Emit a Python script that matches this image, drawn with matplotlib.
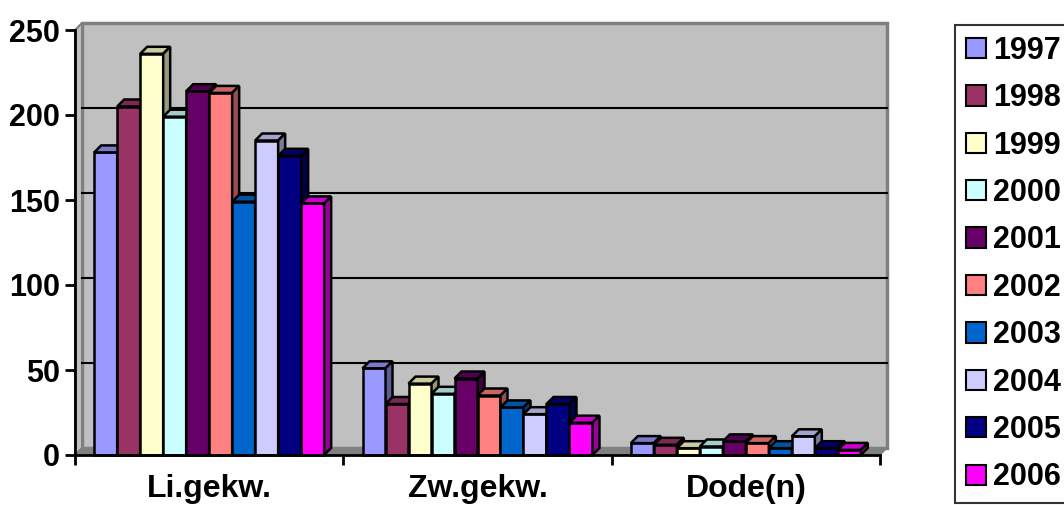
import matplotlib.pyplot as plt
from matplotlib.patches import Polygon, Rectangle, Patch
import matplotlib.colors as mcolors

plt.rcParams['font.family'] = ['Liberation Sans', 'DejaVu Sans']
plt.rcParams['font.weight'] = 'bold'

# Daten
kategorien = ["Li.gekw.", "Zw.gekw.", "Dode(n)"]
jahre = ["1997", "1998", "1999", "2000", "2001", "2002", "2003", "2004", "2005", "2006"]
li_gekw = [178, 205, 236, 199, 214, 213, 149, 185, 176, 148]
zw_gekw = [51, 30, 42, 36, 45, 35, 28, 24, 30, 19]
doden = [7, 6, 4, 5, 8, 7, 4, 11, 4, 3]
werte = [li_gekw, zw_gekw, doden]

farben = ['#9999FF', '#993366', '#FFFFCC', '#CCFFFF', '#660066',
          '#FF8080', '#0066CC', '#CCCCFF', '#000080', '#FF00FF']

def dunkler(c, f):
    r, g, b = mcolors.to_rgb(c)
    return (r * f, g * f, b * f)

fig = plt.figure(figsize=(10.64, 5.05), dpi=100)
ax = fig.add_axes([75 / 1064, 50 / 505, 805 / 1064, 425 / 505])
ax.set_xlim(-0.5, 2.5)
ax.set_ylim(0, 250)
ax.patch.set_visible(False)

# 3D-Tiefe in Datenkoordinaten (ca. 7 px)
DX = 7 / (805 / 3)
DY = 7 / (425 / 250)

# Rueckwand, Seitenwand, Boden
ax.add_patch(Rectangle((-0.5 + DX, DY), 3, 250, facecolor='#C0C0C0',
                       edgecolor='#808080', lw=2.5, clip_on=False, zorder=0))
ax.add_patch(Polygon([(-0.5, 0), (-0.5, 250), (-0.5 + DX, 250 + DY), (-0.5 + DX, DY)],
                     facecolor='#C0C0C0', edgecolor='#808080', lw=1.5, clip_on=False, zorder=0.5))
ax.add_patch(Polygon([(-0.5, 0), (2.5, 0), (2.5 + DX, DY), (-0.5 + DX, DY)],
                     facecolor='#808080', edgecolor='#808080', lw=1, clip_on=False, zorder=0.5))
for y in [50, 100, 150, 200]:
    ax.plot([-0.5 + DX, 2.5 + DX], [y + DY, y + DY], color='black', lw=1.5,
            clip_on=False, zorder=0.8)

# Balken
n = len(jahre)
breite = 0.857 / n
z = 1
for i, reihe in enumerate(werte):
    for j, h in enumerate(reihe):
        x0 = i - 0.4285 + j * breite
        x1 = x0 + breite
        ax.bar(x0, h, width=breite, align='edge', color=farben[j],
               edgecolor='black', lw=1.8, zorder=z, clip_on=False)
        ax.add_patch(Polygon([(x0, h), (x1, h), (x1 + DX, h + DY), (x0 + DX, h + DY)],
                             facecolor=dunkler(farben[j], 0.8), edgecolor='black',
                             lw=1.8, zorder=z, clip_on=False))
        ax.add_patch(Polygon([(x1, 0), (x1, h), (x1 + DX, h + DY), (x1 + DX, DY)],
                             facecolor=dunkler(farben[j], 0.6), edgecolor='black',
                             lw=1.8, zorder=z, clip_on=False))
        z += 1

# Achsen
for s in ['top', 'right']:
    ax.spines[s].set_visible(False)
for s in ['left', 'bottom']:
    ax.spines[s].set_linewidth(2)
    ax.spines[s].set_zorder(200)
ax.set_yticks([0, 50, 100, 150, 200, 250])
ax.tick_params(axis='y', length=7, width=2, pad=4, labelsize=22)
ax.set_xticks([-0.5, 0.5, 1.5, 2.5])
ax.set_xticklabels([])
ax.tick_params(axis='x', which='major', length=7, width=2)
ax.set_xticks([0, 1, 2], minor=True)
ax.set_xticklabels(kategorien, minor=True)
ax.tick_params(axis='x', which='minor', length=0, pad=14, labelsize=23)

# Legende
handles = [Patch(facecolor=c, edgecolor='black', lw=1.5) for c in farben]
leg = fig.legend(handles, jahre, loc='upper left', bbox_to_anchor=(955 / 1064, 1 - 25 / 505),
                 fontsize=22, frameon=True, fancybox=False, handlelength=0.65,
                 handleheight=0.65, handletextpad=0.25, borderpad=0.35, labelspacing=0.57,
                 borderaxespad=0)
leg.get_frame().set_edgecolor('black')
leg.get_frame().set_linewidth(1.5)

fig.savefig('out.png', dpi=100)
